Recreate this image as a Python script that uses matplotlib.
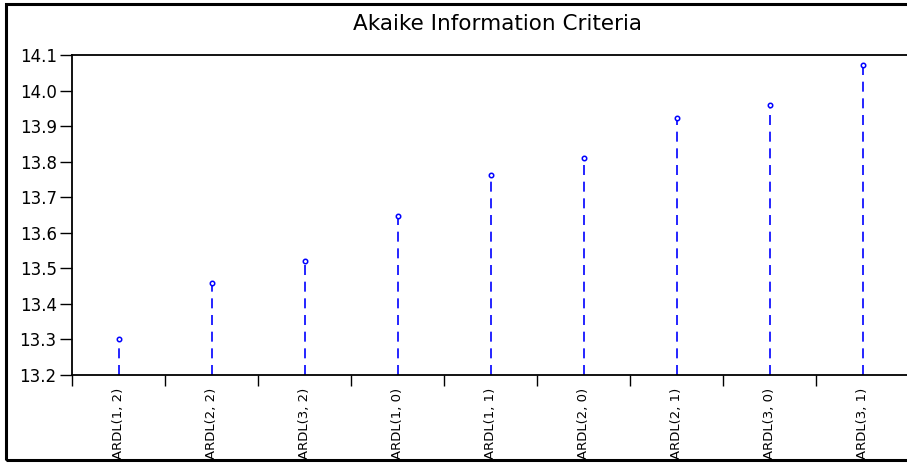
import numpy as np
import matplotlib.pyplot as plt
from matplotlib.patches import Rectangle

models = ["ARDL(1, 2)", "ARDL(2, 2)", "ARDL(3, 2)", "ARDL(1, 0)", "ARDL(1, 1)",
          "ARDL(2, 0)", "ARDL(2, 1)", "ARDL(3, 0)", "ARDL(3, 1)"]
aic = [13.301, 13.459, 13.521, 13.648, 13.762, 13.809, 13.924, 13.960, 14.073]
yticks = [13.2, 13.3, 13.4, 13.5, 13.6, 13.7, 13.8, 13.9, 14.0, 14.1]

# wide sans to get closer to the stretched look of the original
plt.rcParams["font.family"] = ["DejaVu Sans"]

W, H = 907, 463
fig = plt.figure(figsize=(W / 100, H / 100), dpi=100)

# axes in pixel terms
left, right, top, bottom = 72, 909, 55, 375
ax = fig.add_axes([left / W, 1 - bottom / H, (right - left) / W, (bottom - top) / H])

x = np.arange(len(models))
ax.vlines(x, 13.2, aic, colors="#0000ff", linestyles=(0, (6, 4)), linewidth=1.2)
ax.plot(x, aic, "o", ms=3.2, mfc="white", mec="#0000ff", mew=1.1, clip_on=False)

ax.set_xlim(-0.5, len(models) - 0.5)
ax.set_ylim(13.2, 14.1)
ax.set_yticks(yticks)
ax.set_yticklabels([f"{v:.1f}" for v in yticks], fontsize=12)

# category ticks between groups, labels centered
ax.set_xticks(np.arange(-0.5, len(models) + 0.5, 1.0))
ax.set_xticklabels([])
ax.set_xticks(x, minor=True)
ax.set_xticklabels(models, minor=True, rotation=90, fontsize=9.5, va="top")
ax.tick_params(axis="x", which="minor", length=0, pad=9)
ax.tick_params(axis="x", which="major", direction="out", length=8, width=1)
ax.tick_params(axis="y", direction="out", length=9, width=1, pad=2)

for s in ax.spines.values():
    s.set_linewidth(1.3)

fig.text(498 / W, 1 - 24 / H, "Akaike Information Criteria", ha="center", va="center",
         fontsize=15.5)

# outer frame around the figure
fig.patches.append(Rectangle((6 / W, 1 - 460 / H), (W + 5) / W, (460 - 4) / H,
                             transform=fig.transFigure, fill=False, ec="black", lw=2.2))

fig.savefig("out.png", dpi=100)
